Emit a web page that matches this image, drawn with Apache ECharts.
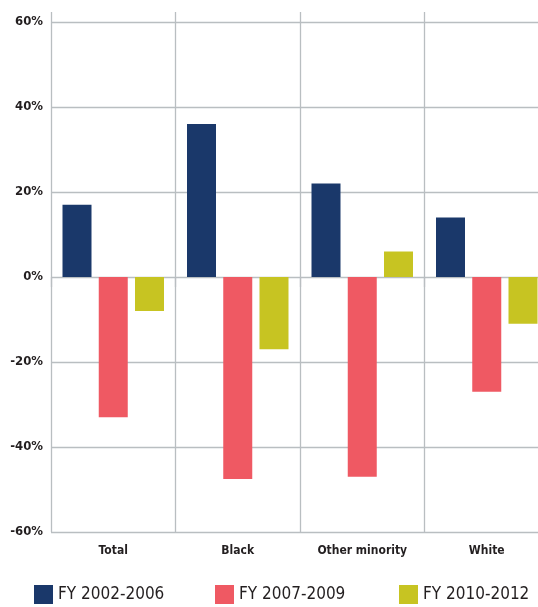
<!DOCTYPE html>
<html>
<head>
<meta charset="utf-8">
<script src="https://cdn.jsdelivr.net/npm/echarts@6/dist/echarts.min.js"></script>
<style>
  html, body { margin: 0; padding: 0; background: #ffffff; overflow: hidden; }
  #chart { width: 550px; height: 607px; }
</style>
</head>
<body>
<div id="chart"></div>
<script>
// Change in percent, by group and fiscal period
const categories = ['Total', 'Black', 'Other minority', 'White'];
const seriesNames = ['FY 2002-2006', 'FY 2007-2009', 'FY 2010-2012'];
const fy2002_2006 = [17, 36, 22, 14];
const fy2007_2009 = [-33, -47.5, -47, -27];
const fy2010_2012 = [-8, -17, 6, -11];
const yTicks = [-60, -40, -20, 0, 20, 40, 60];

const colors = ['#1a386a', '#ef5963', '#c7c422'];
const values = [fy2002_2006, fy2007_2009, fy2010_2012];
const font = "'DejaVu Sans Condensed', 'Liberation Sans Narrow', sans-serif";
const gridColor = '#b9bec1';
const textColor = '#231f20';

const legendLefts = [34, 215, 399];

// The plot runs slightly past the right edge of the page, so the canvas is wider than the window
const chart = echarts.init(document.getElementById('chart'), null, { renderer: 'canvas' });

chart.setOption({
  animation: false,
  backgroundColor: '#ffffff',
  grid: { left: 51, right: 1, top: 22, bottom: 75, containLabel: false },
  legend: seriesNames.map((name, i) => ({
    data: [name],
    left: legendLefts[i],
    top: 585,
    padding: 0,
    icon: 'rect',
    itemWidth: 19,
    itemHeight: 19,
    itemGap: 0,
    selectedMode: false,
    textStyle: { fontFamily: font, fontSize: 17, color: textColor }
  })),
  xAxis: [
    {
      type: 'category',
      data: categories,
      position: 'bottom',
      axisLine: { show: false },
      axisTick: { show: true, interval: 0, length: 10, lineStyle: { color: gridColor, width: 1.3 } },
      splitLine: { show: true, interval: 0, lineStyle: { color: gridColor, width: 1.3 } },
      axisLabel: {
        interval: 0, fontFamily: font, fontSize: 12, fontWeight: 'bold', color: textColor, margin: 13
      }
    },
    {
      type: 'category',
      data: categories,
      position: 'top',
      axisLine: { show: false },
      axisTick: { show: true, interval: 0, length: 10, lineStyle: { color: gridColor, width: 1.3 } },
      axisLabel: { show: false },
      splitLine: { show: false }
    }
  ],
  yAxis: {
    type: 'value',
    min: yTicks[0],
    max: yTicks[yTicks.length - 1],
    interval: 20,
    axisLine: { show: false },
    axisTick: { show: false },
    splitLine: { show: true, lineStyle: { color: gridColor, width: 1.3 } },
    axisLabel: {
      fontFamily: font, fontSize: 13, fontWeight: 'bold', color: textColor, margin: 8,
      formatter: v => v + '%'
    }
  },
  series: seriesNames.map((name, i) => ({
    name,
    type: 'bar',
    data: values[i],
    barWidth: 29,
    barGap: '25%',
    itemStyle: { color: colors[i] },
    z: 3
  }))
});
</script>
</body>
</html>
